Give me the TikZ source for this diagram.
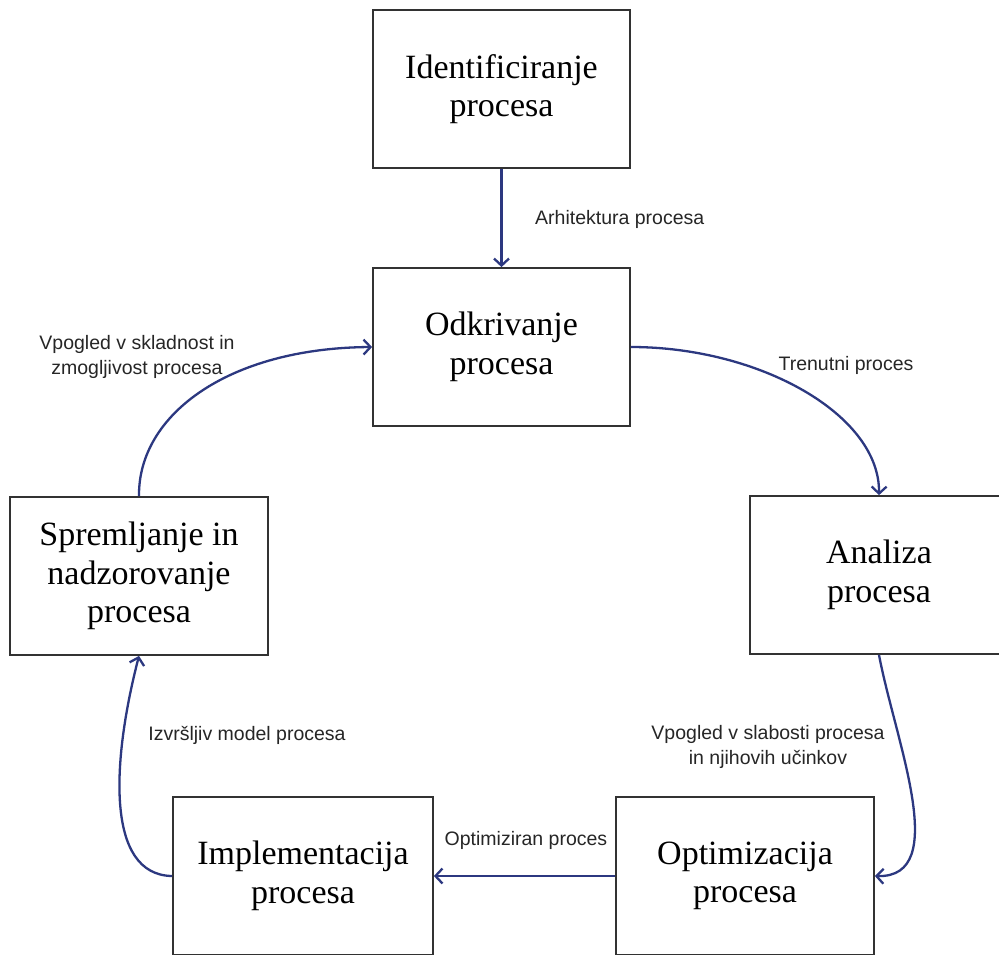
\documentclass[tikz,border=0pt]{standalone}
\usepackage{fontspec}
\setmainfont{Liberation Serif}
\newfontfamily\labfont{Liberation Sans}
\usetikzlibrary{arrows.meta}
\definecolor{arrowblue}{RGB}{44,56,128}
\definecolor{boxgray}{RGB}{50,50,50}
\begin{document}
\begin{tikzpicture}[x=1pt,y=-1pt,
  box/.style={draw=boxgray, line width=1.8pt, minimum width=257pt, minimum height=158pt,
    align=center, inner sep=0pt, font=\fontsize{34}{38.5}\selectfont},
  lab/.style={align=center, inner sep=0pt, text=black!85,
    font=\labfont\fontsize{19.5}{25}\selectfont},
  conn/.style={draw=arrowblue, line width=2.3pt, -{Straight Barb[length=7pt,width=15pt]}}]
\useasboundingbox (0,0) rectangle (999,954);
\fill[white] (0,0) rectangle (999,954);
% boxes
\node[box] (ident) at (501.5,89) {Identificiranje\\procesa};
\node[box] (odkr) at (501.5,347) {Odkrivanje\\procesa};
\node[box, minimum width=258pt] (anal) at (879,575) {Analiza\\procesa};
\node[box, minimum width=258pt] (optim) at (745,876) {Optimizacija\\procesa};
\node[box, minimum width=260pt] (impl) at (303,876) {Implementacija\\procesa};
\node[box, minimum width=258pt] (sprem) at (139,576) {Spremljanje in\\nadzorovanje\\procesa};
% labels
\node[lab, anchor=west] (l1) at (535,219) {Arhitektura procesa};
\node[lab] (l2) at (846,365) {Trenutni proces};
\node[lab] (l3) at (768,747) {Vpogled v slabosti procesa\\in njihovih učinkov};
\node[lab] (l4) at (526,840) {Optimiziran proces};
\node[lab] (l5) at (247,735) {Izvršljiv model procesa};
\node[lab] (l6) at (137,357) {Vpogled v skladnost in\\zmogljivost procesa};
% connectors
\draw[conn] (ident.south) -- (odkr.north);
\draw[conn] (odkr.east) .. controls (760,347) and (880,415) .. (anal.north);
\draw[conn] (anal.south) .. controls (895,740) and (952,878) .. (optim.east);
\draw[conn] (optim.west) -- (impl.east);
\draw[conn] (impl.west) .. controls (105,875) and (112,760) .. (sprem.south);
\draw[conn] (sprem.north) .. controls (138,415) and (228,348) .. (odkr.west);
\end{tikzpicture}
\end{document}
